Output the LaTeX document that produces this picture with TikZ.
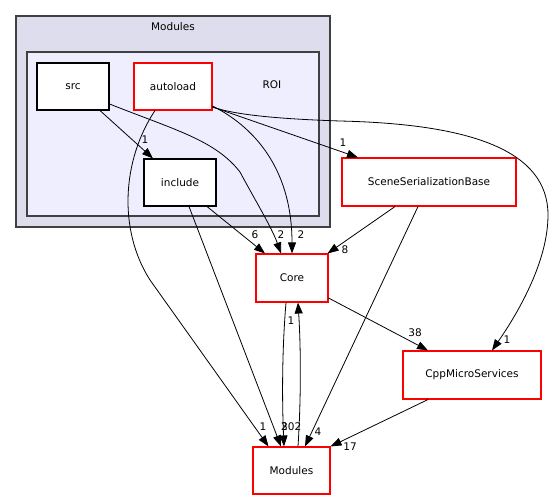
\documentclass[tikz,border=0pt]{standalone}
\usepackage{fontspec}
\setmainfont{DejaVu Sans}
\usetikzlibrary{arrows.meta}
\definecolor{dxouter}{HTML}{DDDDEE}
\definecolor{dxinner}{HTML}{EEEEFF}
\definecolor{dxgray}{HTML}{404040}
\definecolor{dxred}{HTML}{FF0000}

\begin{document}
\begin{tikzpicture}[
  x=1pt, y=-1pt,
  font=\fontsize{10.5}{12}\selectfont,
  >={Triangle[length=11pt,width=8pt]},
  clus/.style={draw=dxgray, line width=1.4pt},
  dirbox/.style={draw=black, fill=white, line width=1.1pt, inner sep=0pt,
                 minimum height=47pt},
  dirred/.style={dirbox, draw=dxred},
  dep/.style={->, line width=0.8pt},
  lbl/.style={inner sep=0pt}
]
\useasboundingbox (0,0) rectangle (554,500);

% Clusters
\draw[clus, fill=dxouter] (16,16) rectangle (330,227);
\draw[clus, fill=dxinner] (27,52) rectangle (319,216);
\node[lbl] (modlabel) at (173,27) {Modules};
\node[lbl] (roi) at (272,85) {ROI};

% Nodes
\node[dirbox, minimum width=72pt] (src) at (73,86.5) {src};
\node[dirred, minimum width=78pt] (autoload) at (173,86.5) {autoload};
\node[dirbox, minimum width=72pt] (include) at (180,182.5) {include};
\node[dirred, minimum width=72pt, minimum height=48pt] (core) at (292,278) {Core};
\node[dirred, minimum width=174pt, minimum height=48pt] (ssb) at (429,182) {SceneSerializationBase};
\node[dirred, minimum width=138pt, minimum height=48pt] (cpp) at (472,375) {CppMicroServices};
\node[dirred, minimum width=77pt] (mods) at (291.5,470.5) {Modules};

% Arrows
\draw[dep] ([xshift=27pt]src.south) -- ([xshift=-27pt]include.north);
\draw[dep] ([yshift=-17.5pt]src.east) .. controls (175,130) and (215,140) .. (240,172)
           .. controls (255,200) and (272,228) .. ([xshift=-11pt]core.north);
\draw[dep] ([yshift=-19.5pt]autoload.east) .. controls (260,130) and (292,175) .. (core.north);
\draw[dep] ([xshift=-18pt]autoload.south) .. controls (122,160) and (118,230) .. (150,280)
           -- ([xshift=-23pt]mods.north);
\draw[dep] ([yshift=-20.5pt]autoload.east) -- ([xshift=-71pt]ssb.north);
\draw[dep] ([yshift=-20.5pt]autoload.east) .. controls (235,115) and (280,119) .. (340,121)
           .. controls (470,124) and (548,150) .. (548,215)
           .. controls (548,260) and (520,310) .. ([xshift=20pt]cpp.north);
\draw[dep] ([xshift=27pt]include.south) -- ([xshift=-27pt]core.north);
\draw[dep] ([xshift=9pt]include.south) -- ([xshift=-10.5pt]mods.north);
\draw[dep] ([xshift=-6pt]core.south) .. controls (282,350) and (282,400) .. ([xshift=-7.5pt]mods.north);
\draw[dep] ([xshift=6.5pt]mods.north) .. controls (301,400) and (301,350) .. ([xshift=6pt]core.south);
\draw[dep] ([xshift=-34pt]ssb.south) -- ([xshift=-1pt]core.north east);
\draw[dep] ([xshift=-11pt]ssb.south) -- ([xshift=13.5pt]mods.north);
\draw[dep] ([yshift=-20pt]core.east) -- ([xshift=-44pt]cpp.north);
\draw[dep] ([xshift=-44pt]cpp.south) -- (mods.north east);

% Edge counts
\node[lbl] (l-src-inc) at (145,140) {1};
\node[lbl] (l-src-core) at (281,235) {2};
\node[lbl] (l-auto-core) at (301,235) {2};
\node[lbl] (l-inc-core) at (255,235) {6};
\node[lbl] (l-auto-ssb) at (343,143) {1};
\node[lbl] (l-auto-cpp) at (507,340) {1};
\node[lbl] (l-ssb-core) at (345,250) {8};
\node[lbl] (l-core-cpp) at (415,333) {38};
\node[lbl] (l-mods-core) at (291,321) {1};
\node[lbl] (l-auto-mods) at (263,427) {1};
\node[lbl, anchor=west] (l-inc-mods) at (281,427) {3};
\node[lbl, anchor=west] (l-core-mods) at (281,427) {202};
\node[lbl] (l-ssb-mods) at (318,432) {4};
\node[lbl] (l-cpp-mods) at (350,447) {17};
\end{tikzpicture}
\end{document}
